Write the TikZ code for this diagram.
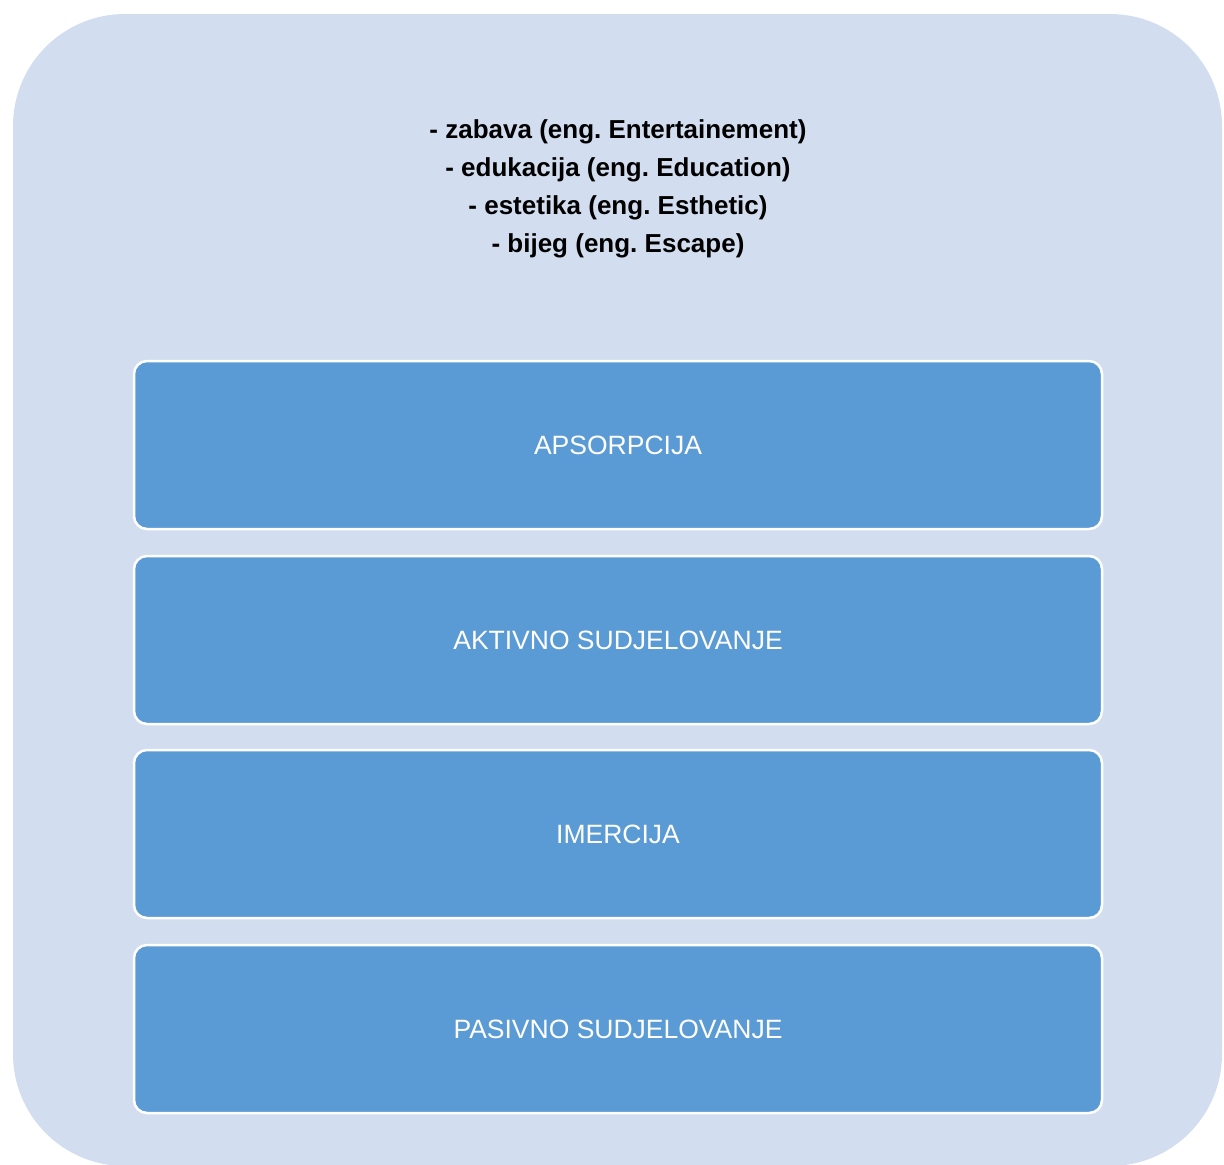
\documentclass[tikz,border=0pt]{standalone}
\usepackage{fontspec}
\setmainfont{Liberation Sans}
\frenchspacing
\definecolor{outerbg}{HTML}{D2DEEF}
\definecolor{boxfill}{HTML}{5B9BD5}
\begin{document}
\begin{tikzpicture}[x=1pt,y=-1pt,
  layerbox/.style={fill=boxfill, draw=white, line width=2.5pt, rounded corners=13pt},
  layertext/.style={text=white, font=\fontsize{26.5}{30}\selectfont},
  headtext/.style={align=center, font=\bfseries\fontsize{26}{38}\selectfont}]
\useasboundingbox (0,0) rectangle (1224,1165);
\fill[outerbg, rounded corners=112pt] (13,14) rectangle (1222,1166);
\node[headtext] (head) at (618,189) {- zabava (eng. Entertainement)\\- edukacija (eng. Education)\\- estetika (eng. Esthetic)\\- bijeg (eng. Escape)};
\draw[layerbox] (134,361) rectangle (1102,529);
\node[layertext] (l1) at (618,445) {APSORPCIJA};
\draw[layerbox] (134,556) rectangle (1102,724);
\node[layertext] (l2) at (618,640) {AKTIVNO SUDJELOVANJE};
\draw[layerbox] (134,750) rectangle (1102,918);
\node[layertext] (l3) at (618,834) {IMERCIJA};
\draw[layerbox] (134,945) rectangle (1102,1113);
\node[layertext] (l4) at (618,1029) {PASIVNO SUDJELOVANJE};
\end{tikzpicture}
\end{document}
